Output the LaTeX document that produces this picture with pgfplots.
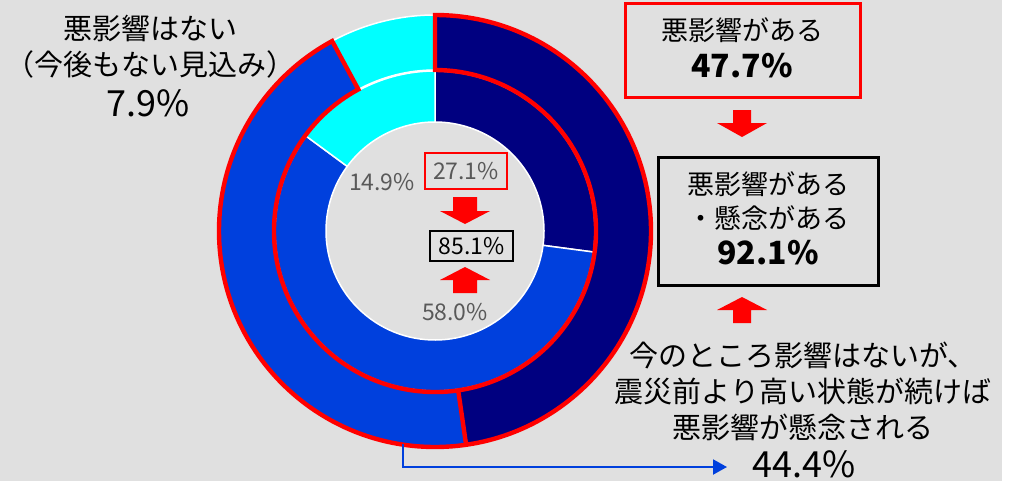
\documentclass[border=0pt]{standalone}
\usepackage{pgfplots}
\pgfplotsset{compat=1.18}
\usetikzlibrary{arrows.meta}
\usepackage{fontspec}
\setmainfont{Noto Sans CJK JP}
\definecolor{bg}{HTML}{E0E0E0}
\definecolor{navy}{HTML}{000080}
\definecolor{blu}{HTML}{0040DD}
\definecolor{cyn}{HTML}{00FFFF}
\definecolor{gtxt}{HTML}{595959}
\definecolor{rd}{HTML}{FF0000}
\newcommand\donutwedge[5]{%
  \edef\tmp{\noexpand\fill[#5, draw=white, line width=0.75pt] ([shift={(#1:#4)}]axis cs:435,231) arc[start angle=#1, end angle=#2, radius=#4] -- ([shift={(#2:#3)}]axis cs:435,231) arc[start angle=#2, end angle=#1, radius=#3] -- cycle;}\tmp}
\newcommand\ring[3]{\gdef\acc{90}\foreach \v/\c in {#3}{\pgfmathsetmacro\aend{\acc-3.6*\v}\donutwedge{\acc}{\aend}{#1}{#2}{\c}\xdef\acc{\aend}}}
\newcommand\fs[2]{\fontsize{#1}{#2}\selectfont}
\begin{document}
\begin{tikzpicture}
\pgfmathsetmacro\navyend{90-3.6*47.7}
\pgfmathsetmacro\redend{90-3.6*(47.7+44.4)}
\begin{axis}[hide axis, scale only axis, width=510pt, height=240.5pt,
  xmin=0, xmax=1020, ymin=0, ymax=481, y dir=reverse, clip=false]
\fill[white] (axis cs:0,0) rectangle (axis cs:1020,481);
\fill[bg] (axis cs:0,0) rectangle (axis cs:1002,481);
% outer ring: 47.7 / 44.4 / 7.9
\ring{80.5pt}{108pt}{47.7/navy,44.4/blu,7.9/cyn}
% inner ring: 27.1 / 58.0 / 14.9
\ring{54.5pt}{80pt}{27.1/navy,58.0/blu,14.9/cyn}
% red outlines
\draw[rd, line width=2.2pt, line join=miter] ([shift={(90:108pt)}]axis cs:435,231) arc[start angle=90, end angle=\redend, radius=108pt] -- ([shift={(\redend:80.5pt)}]axis cs:435,231) arc[start angle=\redend, end angle=90, radius=80.5pt] -- cycle;
\draw[rd, line width=2.2pt] ([shift={(\navyend:108pt)}]axis cs:435,231) -- ([shift={(\navyend:80.5pt)}]axis cs:435,231);
% inner labels
\node[text=gtxt, font=\fs{11.5}{14}] at (axis cs:382,182) {14.9\%};
\node[text=gtxt, font=\fs{11.5}{14}] at (axis cs:455,312) {58.0\%};
\draw[red, line width=0.8pt] (axis cs:425,153) rectangle (axis cs:507,189);
\node[text=gtxt, font=\fs{11.5}{14}] at (axis cs:466,171) {27.1\%};
\draw[black, line width=0.8pt] (axis cs:430,231) rectangle (axis cs:513,261);
\node[text=black, font=\fs{11.5}{14}] at (axis cs:471.5,246) {85.1\%};
\fill[rd] (axis cs:453,197) -- (axis cs:477,197) -- (axis cs:477,211) -- (axis cs:490,211) -- (axis cs:465,224) -- (axis cs:440,211) -- (axis cs:453,211) -- cycle;
\fill[rd] (axis cs:453,293) -- (axis cs:477,293) -- (axis cs:477,280) -- (axis cs:490,280) -- (axis cs:465,267) -- (axis cs:440,280) -- (axis cs:453,280) -- cycle;
% left label
\node[align=center, font=\fs{14.5}{18}] at (axis cs:150,47) {悪影響はない\\（今後もない見込み）};
\node[font=\fs{18}{20}] at (axis cs:148,103) {7.9\%};
% top right red box
\draw[rd, line width=1.5pt] (axis cs:625,4) rectangle (axis cs:860,97);
\node[font=\fs{13.5}{16}] at (axis cs:742,30) {悪影響がある};
\node[font=\bfseries\fs{16}{18}] at (axis cs:742,66) {47.7\%};
\fill[rd] (axis cs:733,110) -- (axis cs:751,110) -- (axis cs:751,123) -- (axis cs:767,123) -- (axis cs:742,137) -- (axis cs:717,123) -- (axis cs:733,123) -- cycle;
% black box
\draw[black, line width=1.5pt] (axis cs:658,157) rectangle (axis cs:878,285);
\node[font=\fs{13.5}{16}] at (axis cs:768,184) {悪影響がある};
\node[font=\fs{13.5}{16}] at (axis cs:768,218) {・懸念がある};
\node[font=\bfseries\fs{16}{18}] at (axis cs:768,253) {92.1\%};
\fill[rd] (axis cs:733,323) -- (axis cs:751,323) -- (axis cs:751,310) -- (axis cs:767,310) -- (axis cs:742,297) -- (axis cs:717,310) -- (axis cs:733,310) -- cycle;
% bottom right label
\node[align=center, font=\fs{14.5}{18}] at (axis cs:803,391) {今のところ影響はないが、\\震災前より高い状態が続けば\\悪影響が懸念される};
\node[font=\fs{18}{20}] at (axis cs:804,464) {44.4\%};
\draw[blu, line width=1pt, -{Triangle[length=7pt,width=7.5pt]}] (axis cs:403,444) -- (axis cs:403,467) -- (axis cs:727,467);
\end{axis}
\pgfresetboundingbox
\useasboundingbox (current axis.south west) rectangle (current axis.north east);
\end{tikzpicture}
\end{document}
